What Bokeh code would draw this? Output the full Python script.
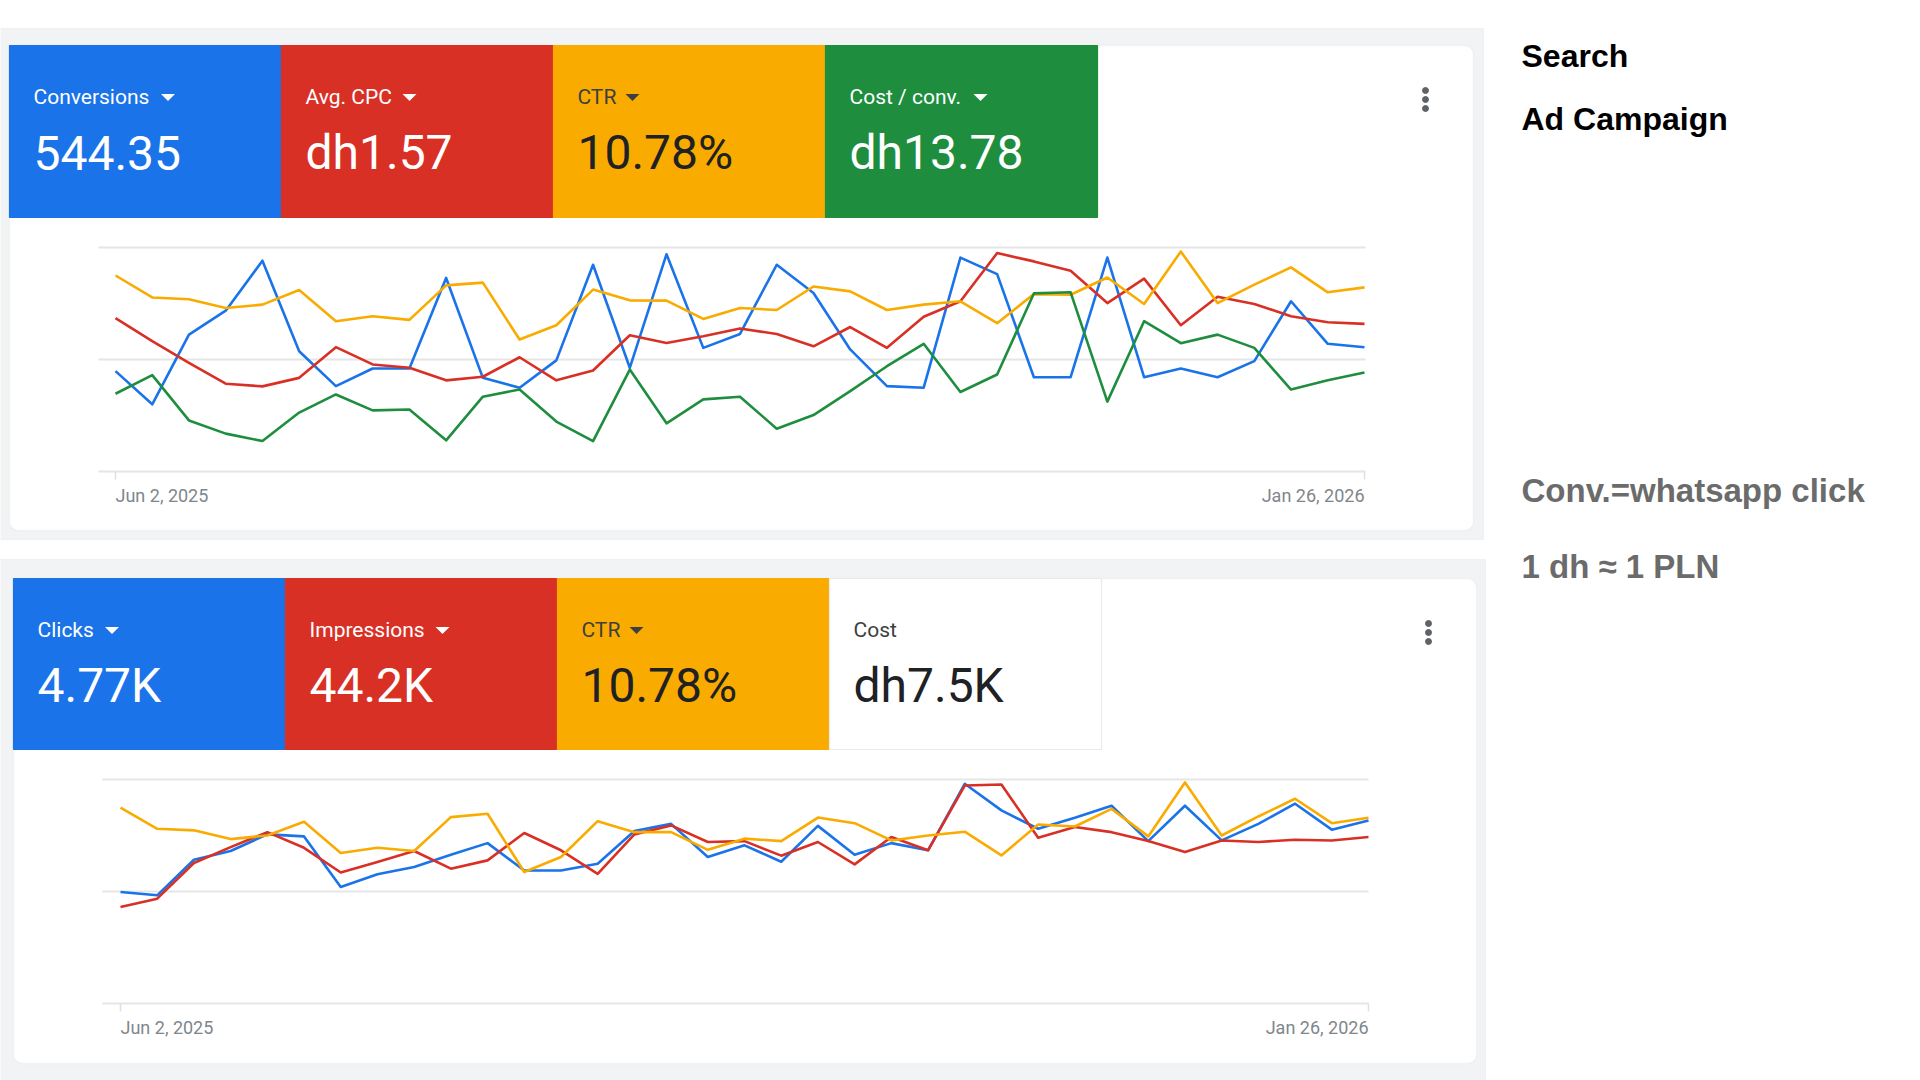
import pandas as pd
from bokeh.plotting import figure
from bokeh.models import Range1d, BoxAnnotation
from bokeh.core.properties import value
from bokeh.embed import file_html
from bokeh.resources import INLINE

# ---------------- data ----------------
dates = pd.date_range("2025-06-02", "2026-01-26", freq="7D")  # 35 weekly points

# top card: KPI tiles
top_metrics = ["Conversions", "Avg. CPC", "CTR", "Cost / conv."]
top_totals = ["544.35", "dh1.57", "10.78%", "dh13.78"]
# bottom card: KPI tiles
bottom_metrics = ["Clicks", "Impressions", "CTR", "Cost"]
bottom_totals = ["4.77K", "44.2K", "10.78%", "dh7.5K"]

# series (each metric on its own normalised axis, 0-100 % of chart height)
conversions = [44.8, 30.0, 61.1, 71.8, 94.1, 53.7, 38.1, 46.0, 46.0, 86.4, 41.8, 37.4,
               49.6, 92.3, 46.3, 97.0, 55.2, 61.4, 92.3, 79.7, 54.5, 38.1, 37.4, 95.5,
               88.1, 42.1, 42.1, 95.5, 42.1, 46.0, 42.1, 49.3, 76.0, 57.0, 55.5]
avg_cpc = [68.5, 58.2, 48.5, 39.2, 38.0, 41.8, 55.5, 47.8, 46.3, 40.7, 42.3, 51.0,
           40.7, 45.1, 60.8, 57.4, 60.4, 63.8, 61.4, 55.9, 64.5, 55.2, 69.1, 76.0,
           97.5, 93.8, 89.6, 75.2, 86.1, 65.3, 78.0, 74.8, 69.3, 66.6, 65.9]
ctr_top = [87.5, 77.7, 76.9, 73.0, 74.5, 81.0, 67.1, 69.3, 67.7, 83.1, 84.3, 58.9,
           65.3, 81.2, 76.4, 76.3, 68.1, 73.0, 72.1, 82.6, 80.4, 72.1, 74.5, 76.0,
           66.2, 79.2, 78.9, 86.6, 74.8, 98.2, 75.2, 83.4, 91.1, 80.0, 82.2]
cost_per_conv = [34.7, 43.0, 22.8, 16.9, 13.6, 26.3, 34.4, 27.3, 27.7, 13.9, 33.4, 36.6,
                 22.3, 13.6, 45.5, 21.5, 32.2, 33.4, 19.1, 25.2, 35.9, 47.0, 57.0, 35.5,
                 43.3, 79.5, 80.0, 31.2, 67.1, 57.3, 61.1, 55.2, 36.6, 40.7, 44.2]

clicks = [49.8, 48.3, 64.2, 68.1, 75.5, 74.6, 52.0, 57.7, 60.9, 66.4, 71.6, 59.4,
          59.4, 62.4, 77.0, 80.2, 65.4, 70.6, 63.3, 79.3, 66.4, 71.6, 68.4, 98.1,
          86.2, 78.0, 82.9, 88.3, 72.5, 88.3, 72.8, 80.2, 89.2, 77.6, 81.7]
impressions = [43.1, 46.8, 62.7, 69.8, 76.5, 69.5, 58.5, 63.2, 68.1, 60.2, 63.9, 76.1,
               68.4, 57.9, 75.5, 79.5, 72.1, 72.5, 66.0, 72.1, 62.1, 74.3, 68.4, 97.3,
               97.8, 74.0, 78.8, 76.5, 72.5, 67.6, 72.8, 72.1, 73.1, 72.8, 74.3]
ctr_bottom = [87.4, 78.0, 77.3, 73.4, 75.0, 81.1, 67.2, 69.5, 68.1, 83.2, 84.7, 58.7,
              65.4, 81.4, 76.5, 76.5, 68.6, 73.6, 72.5, 83.0, 80.5, 72.8, 75.0, 76.7,
              66.1, 79.9, 79.0, 86.9, 74.6, 98.7, 75.0, 83.5, 91.4, 80.5, 82.9]

side_titles = ["Search", "Ad Campaign"]
side_notes = ["Conv.=whatsapp click", "1 dh \u2248 1 PLN"]

# ---------------- styling ----------------
BLUE, RED, YELLOW, GREEN = "#1a73e8", "#d93025", "#f9ab00", "#1e8e3e"
W, H = 1920, 1080
FONT = value("Roboto")


def sy(px):
    """pixel-from-top -> main y coordinate"""
    return H - px


p = figure(width=W, height=H, x_range=Range1d(0, W), y_range=Range1d(0, H),
           x_axis_location=None, y_axis_location=None, toolbar_location=None,
           output_backend="svg", min_border=0, outline_line_color=None,
           background_fill_color="white", border_fill_color="white")
p.xgrid.visible = False
p.ygrid.visible = False

# grey panels and white cards
for (l, r, t, b) in [(-3, 1483, 28, 539), (-3, 1485, 559, 1083)]:
    p.add_layout(BoxAnnotation(left=l, right=r, top=sy(t), bottom=sy(b),
                               fill_color="#f1f3f4", fill_alpha=1,
                               line_color="#dadce0", line_width=1, level="underlay"))
for (l, r, t, b) in [(9, 1473, 45, 530), (13, 1476, 578, 1063)]:
    p.add_layout(BoxAnnotation(left=l, right=r, top=sy(t), bottom=sy(b),
                               fill_color="white", fill_alpha=1, border_radius=9,
                               line_color="#e2e3e5", line_width=1.5, level="underlay"))


def tiles(lefts, width, top_px, bottom_px, metrics, totals, fills, label_cols,
          value_cols, borders, label_mid, value_mid, arrows, arrow_y):
    p.quad(left=lefts, right=[l + width for l in lefts],
           top=[sy(top_px)] * len(lefts), bottom=[sy(bottom_px)] * len(lefts),
           fill_color=fills, line_color=borders, line_width=1.2)
    xs = [l + 24 for l in lefts]
    p.text(x=xs, y=[sy(label_mid)] * len(xs), text=metrics, text_color=label_cols,
           text_font=FONT, text_font_size="21px", text_baseline="middle")
    p.text(x=xs, y=[sy(value_mid)] * len(xs), text=totals, text_color=value_cols,
           text_font=FONT, text_font_size="48px", text_baseline="middle")
    axs, ays, acol = [], [], []
    for cx, c in arrows:
        axs.append([cx - 7, cx + 7, cx])
        ays.append([sy(arrow_y - 3.5), sy(arrow_y - 3.5), sy(arrow_y + 3.5)])
        acol.append(c)
    p.patches(xs=axs, ys=ays, fill_color=acol, line_color=None)


tiles([9, 281, 553, 825], 272, 45, 217, top_metrics, top_totals,
      [BLUE, RED, YELLOW, GREEN], ["white", "white", "#3c4043", "white"],
      ["white", "white", "#202124", "white"], [BLUE, RED, YELLOW, GREEN],
      96, 152, [(167.5, "white"), (409, "white"), (632, "#3c4043"), (980, "white")], 97)

tiles([13, 285, 557, 829], 272, 578, 749, bottom_metrics, bottom_totals,
      [BLUE, RED, YELLOW, "white"], ["white", "white", "#3c4043", "#3c4043"],
      ["white", "white", "#202124", "#202124"], [BLUE, RED, YELLOW, "#e8eaed"],
      629, 685, [(111.5, "white"), (442, "white"), (636, "#3c4043")], 630)

# more-menu dots
p.scatter(x=[1425] * 3, y=[sy(90), sy(99), sy(108)], size=6, color="#5f6368")
p.scatter(x=[1428] * 3, y=[sy(623), sy(632), sy(641)], size=6, color="#5f6368")

t_ms = (dates - pd.Timestamp("1970-01-01")) // pd.Timedelta(milliseconds=1)
t0, t1 = float(t_ms[0]), float(t_ms[-1])


def chart(name, x_first_px, x_last_px, y0_px, y100_px, grid_l, grid_r, series, label_y):
    ms_px = (t1 - t0) / (x_last_px - x_first_px)
    p.extra_x_ranges[name + "_x"] = Range1d(t0 - x_first_px * ms_px,
                                            t0 + (W - x_first_px) * ms_px)
    k = (y0_px - y100_px) / 100.0
    end = y0_px / k
    p.extra_y_ranges[name + "_y"] = Range1d(end - H / k, end)
    xr, yr = name + "_x", name + "_y"
    # gridlines at 0 / 50 / 100 %
    p.segment(x0=[grid_l] * 3, x1=[grid_r] * 3, y0=[0, 50, 100], y1=[0, 50, 100],
              y_range_name=yr, line_color="#e6e6e6", line_width=2)
    # end ticks
    p.segment(x0=[dates[0], dates[-1]], x1=[dates[0], dates[-1]],
              y0=[sy(y0_px)] * 2, y1=[sy(y0_px + 8)] * 2, x_range_name=xr,
              line_color="#e0e0e0", line_width=1.5)
    for vals, col in series:
        p.line(x=dates, y=vals, x_range_name=xr, y_range_name=yr, line_color=col,
               line_width=2.6, line_join="round")
    p.text(x=[dates[0]], y=[sy(label_y)], text=[dates[0].strftime("%b %-d, %Y")],
           x_range_name=xr, text_align="left", text_baseline="middle",
           text_font=FONT, text_font_size="18px", text_color="#80868b")
    p.text(x=[dates[-1]], y=[sy(label_y)], text=[dates[-1].strftime("%b %-d, %Y")],
           x_range_name=xr, text_align="right", text_baseline="middle",
           text_font=FONT, text_font_size="18px", text_color="#80868b")


chart("top", 115, 1364, 471, 247, 98, 1365,
      [(conversions, BLUE), (avg_cpc, RED), (ctr_top, YELLOW), (cost_per_conv, GREEN)], 495)
chart("bot", 120, 1368, 1003, 779, 102, 1368,
      [(clicks, BLUE), (impressions, RED), (ctr_bottom, YELLOW)], 1027)

# side notes
p.text(x=[1521, 1521], y=[sy(55), sy(118)], text=side_titles, text_color="black",
       text_font=value("Liberation Sans"), text_font_style="bold",
       text_font_size="32px", text_baseline="middle")
p.text(x=[1521, 1521], y=[sy(490), sy(566)], text=side_notes, text_color="#6b6b6b",
       text_font=value("Liberation Sans"), text_font_style="bold",
       text_font_size="33px", text_baseline="middle")

open("out.html", "w").write(file_html(p, INLINE))
